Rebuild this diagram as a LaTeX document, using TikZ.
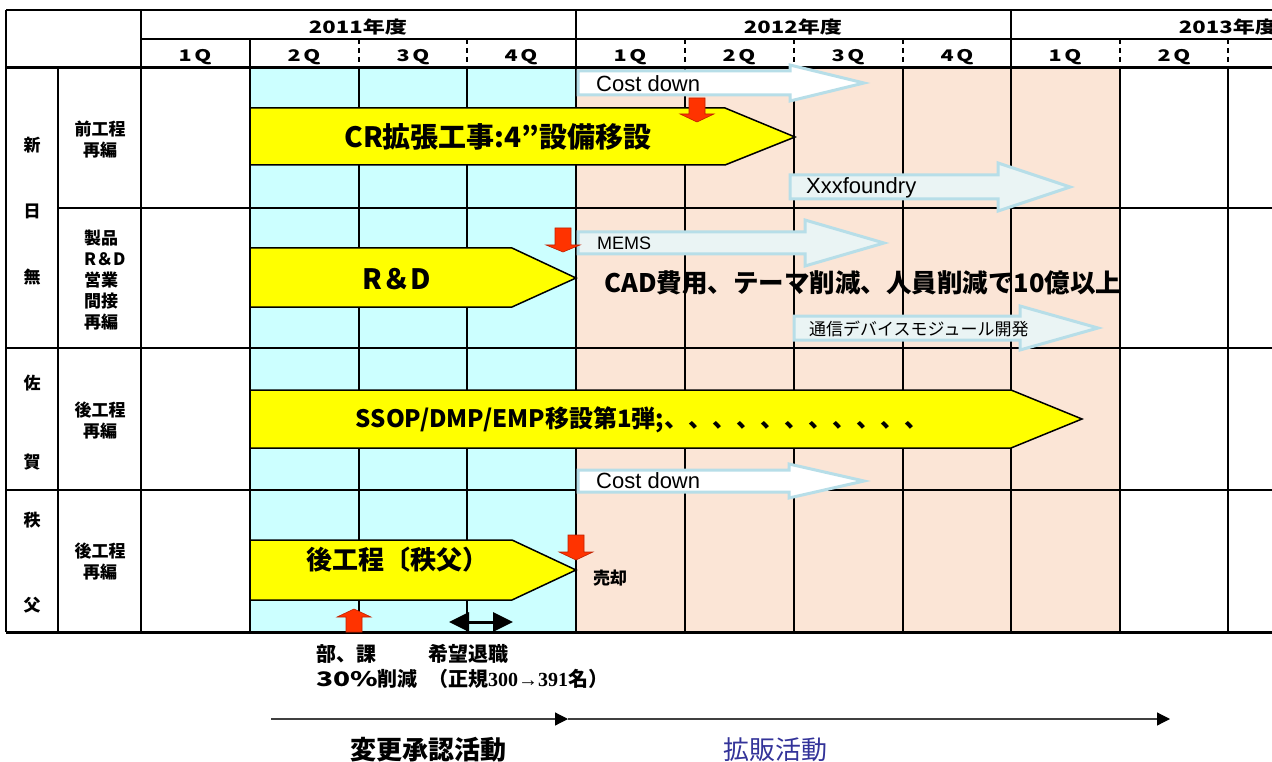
\documentclass[tikz,border=0pt]{standalone}
\usepackage{graphicx}
\usepackage{fontspec}
\setmainfont{Noto Sans CJK JP}
\newfontfamily\lat{Liberation Sans}
\newfontfamily\serifb{Liberation Serif}
\usetikzlibrary{arrows.meta}
\definecolor{cyanbg}{HTML}{CCFFFF}
\definecolor{peachbg}{HTML}{FBE5D6}
\definecolor{redarr}{HTML}{FF3300}
\definecolor{rededge}{HTML}{C02000}
\definecolor{lightedge}{HTML}{B7DEE8}
\definecolor{lightfill}{HTML}{EAF4F4}
\definecolor{bluetext}{HTML}{333399}
\definecolor{pureyellow}{RGB}{255,255,0}
\newcommand{\myblock}[7]{\path[#1] (#2,#5-#6) -- (#3,#5-#6) -- (#3,#5-#7) -- (#4,#5) -- (#3,#5+#7) -- (#3,#5+#6) -- (#2,#5+#6) -- cycle;}
\newcommand{\mydown}[4]{\path[redblock] (#1-8,#2) -- (#1+8,#2) -- (#1+8,#3) -- (#1+17,#3) -- (#1,#4) -- (#1-17,#3) -- (#1-8,#3) -- cycle;}
\newcommand{\mypenta}[5]{\path[yellowblock] (250,#1) -- (#3,#1) -- (#4,#5) -- (#3,#2) -- (250,#2) -- cycle;}
\newcommand{\wide}[2]{\scalebox{#1}[1]{#2}}
\tikzset{
  gridline/.style={line width=2pt, black},
  thickline/.style={line width=3pt, black},
  dashline/.style={line width=2pt, black, dash pattern=on 5pt off 4pt},
  yellowblock/.style={fill=pureyellow, draw=black, line width=1.5pt, line join=miter},
  lightblock/.style={fill=lightfill, draw=lightedge, line width=3pt, line join=miter},
  whiteblock/.style={fill=white, draw=lightedge, line width=3pt, line join=miter},
  redblock/.style={fill=redarr, draw=rededge, line width=0.6pt},
  hdr/.style={font=\fontsize{17}{19}\selectfont\bfseries, inner sep=0pt},
  qlab/.style={font=\fontsize{16}{18}\selectfont\bfseries, inner sep=0pt},
  side/.style={font=\fontsize{17}{19}\selectfont\bfseries, inner sep=0pt},
  sidemulti/.style={font=\fontsize{17}{21}\selectfont\bfseries, inner sep=0pt, align=center},
  bigtext/.style={font=\fontsize{24}{26}\selectfont\bfseries, inner sep=0pt},
  lattext/.style={font=\lat\fontsize{22}{24}\selectfont, inner sep=0pt, anchor=west},
  bottomtext/.style={font=\fontsize{20}{25}\selectfont\bfseries, inner sep=0pt, anchor=west, align=left},
  timeline/.style={line width=1.2pt, black!75, -{Triangle[length=13pt,width=13pt,color=black,fill=black]}},
}
\begin{document}
\begin{tikzpicture}[x=1pt,y=-1pt]
\useasboundingbox (0,0) rectangle (1272,762);
\clip (0,0) rectangle (1272,762);
% backgrounds
\fill[cyanbg] (250,68) rectangle (576,632);
\fill[peachbg] (576,68) rectangle (1120,632);
% horizontal lines
\draw[gridline] (6,10) -- (1272,10);
\draw[gridline] (141,39) -- (1272,39);
\draw[thickline] (6,68) -- (1272,68);
\draw[gridline] (58,208) -- (1272,208);
\draw[gridline] (6,348) -- (1272,348);
\draw[gridline] (6,490) -- (1272,490);
\draw[thickline] (6,632) -- (1272,632);
% vertical lines
\draw[gridline] (6,10) -- (6,632);
\draw[gridline] (58,68) -- (58,632);
\foreach \x in {141,576,1011} \draw[gridline] (\x,10) -- (\x,632);
\foreach \x in {250} \draw[gridline] (\x,39) -- (\x,632);
\foreach \x in {359,467,685,794,903,1120,1228} {
  \draw[dashline] (\x,39) -- (\x,68);
  \draw[gridline] (\x,68) -- (\x,632);
}
% header text
\node[hdr] (y2011) at (358,27) {\wide{1.3}{2011年度}};
\node[hdr] (y2012) at (793,27) {\wide{1.3}{2012年度}};
\node[hdr] (y2013) at (1228,27) {\wide{1.3}{2013年度}};
\foreach \x/\q [count=\i] in {195/1,304/2,413/3,521/4,630/1,739/2,848/3,957/4,1065/1,1174/2}
  \node[qlab] (q\i) at (\x,57) {\wide{1.35}{\q\hspace{2pt}Q}};
% left columns
\node[side] (s1) at (32,145) {新};
\node[side] (s2) at (32,211) {日};
\node[side] (s3) at (32,277) {無};
\node[side] (s4) at (32,383) {佐};
\node[side] (s5) at (32,462) {賀};
\node[side] (s6) at (32,520) {秩};
\node[side] (s7) at (32,605) {父};
\node[sidemulti] (c1) at (100,140) {前工程\\再編};
\node[sidemulti, align=left, anchor=west] (c2) at (84,280) {製品\\R＆D\\営業\\間接\\再編};
\node[sidemulti] (c3) at (100,421) {後工程\\再編};
\node[sidemulti] (c4) at (100,562) {後工程\\再編};
% light block arrows
\myblock{whiteblock}{578}{790}{864}{83}{12}{18}
\node[lattext] (cd1) at (596,84) {Cost down};
\myblock{lightblock}{790}{998}{1070}{187}{12}{24}
\node[lattext] (xf) at (806,188) {Xxxfoundry};
\myblock{lightblock}{578}{805}{884}{243}{11}{23}
\node[lattext, font=\lat\fontsize{18}{20}\selectfont] (mems) at (597,243) {MEMS};
\myblock{lightblock}{794}{1020}{1098}{328}{12}{22}
\node[inner sep=0pt, anchor=west, font=\fontsize{17}{19}\selectfont] (tsu) at (809,329) {通信デバイスモジュール開発};
\myblock{whiteblock}{578}{789}{864}{481}{11}{17}
\node[lattext] (cd2) at (596,481) {Cost down};
% yellow arrows
\mypenta{108}{165}{725}{795}{137}
\node[bigtext, font=\fontsize{28}{30}\selectfont\bfseries] (cr) at (498,137) {CR拡張工事:4”設備移設};
\mypenta{248}{307}{512}{576}{278}
\node[bigtext, font=\fontsize{28}{30}\selectfont\bfseries] (rd) at (397,279) {R＆D};
\mypenta{390}{448}{1011}{1082}{419}
\node[bigtext] (ssop) at (642,420) {SSOP/DMP/EMP移設第1弾;、、、、、、、、、、、};
\mypenta{540}{600}{512}{576}{570}
\node[bigtext, font=\fontsize{26}{28}\selectfont\bfseries] (chi) at (397,560) {後工程〔秩父）};
% red arrows
\mydown{697}{98}{114}{122}
\mydown{563}{228}{245}{252}
\mydown{576}{535}{552}{560}
\path[redblock] (346,632) -- (362,632) -- (362,617) -- (371,617) -- (354,609) -- (337,617) -- (346,617) -- cycle;
% CAD text
\node[inner sep=0pt, anchor=west, font=\fontsize{25.5}{27}\selectfont\bfseries] (cad) at (604,283) {CAD費用、テーマ削減、人員削減で10億以上};
\node[side] (sell) at (610,578) {売却};
% double arrow
\coordinate (da1) at (449,622);
\coordinate (da2) at (513,622);
\draw[line width=3pt, {Triangle[length=20pt,width=19pt]}-{Triangle[length=20pt,width=19pt]}] (da1) -- (da2);
% bottom texts
\node[bottomtext] (b1) at (316,666) {部、課\\\wide{1.4}{30\%}削減};
\node[bottomtext] (b2) at (428,666) {希望退職\\（正規{\serifb 300→391}名）};
% timeline
\coordinate (t0) at (271,719);
\coordinate (t1) at (568,719);
\coordinate (t2) at (1170,719);
\draw[timeline] (t0) -- (t1);
\draw[timeline] (t1) -- (t2);
\node[inner sep=0pt, font=\fontsize{26}{28}\selectfont\bfseries] (act1) at (428,750) {変更承認活動};
\node[inner sep=0pt, font=\fontsize{26}{28}\selectfont, text=bluetext] (act2) at (775,750) {拡販活動};
\end{tikzpicture}
\end{document}
